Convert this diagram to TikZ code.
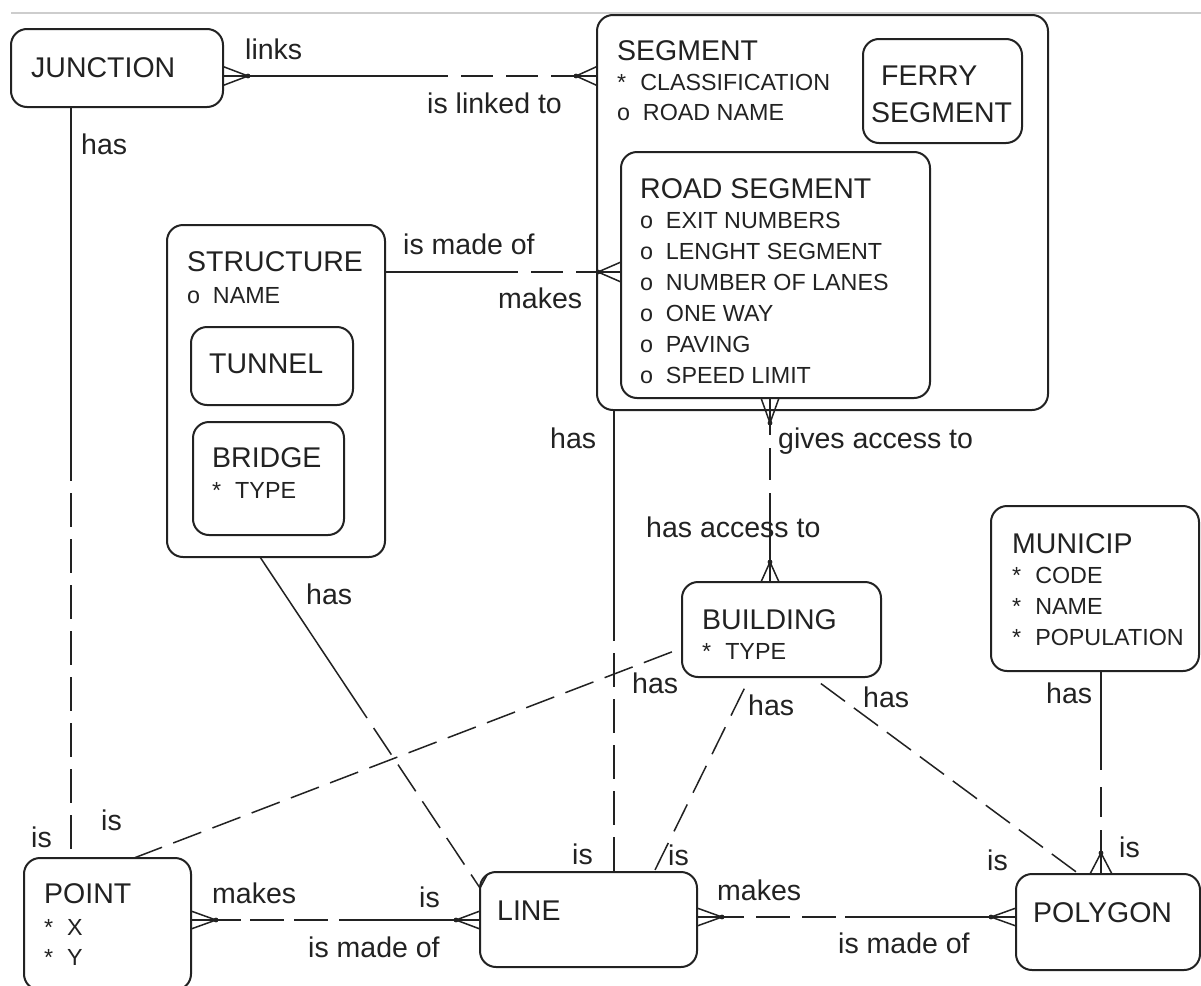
\documentclass[tikz,border=0pt]{standalone}
\usepackage{fontspec}
\setmainfont{Liberation Sans}
\usetikzlibrary{calc}

\definecolor{ink}{HTML}{222222}
\definecolor{rulegray}{HTML}{CDCDCD}

\newcommand\entfont{\fontsize{28.5}{34}\selectfont}
\newcommand\attfont{\fontsize{23.3}{28}\selectfont}
\newcommand\oattr[1]{o\hspace{0.55em}#1}
\newcommand\sattr[1]{*\hspace{0.6em}#1}

% crow's foot: #1 = joint (dot), #2 = end on the entity border, #3 = half spread
\newcommand\crowfoot[3]{%
  \fill[ink] (#1) circle (2.4pt);
  \draw[prong] (#1) -- (#2);
  \draw[prong] (#1) -- ($(#2)!#3!90:(#1)$);
  \draw[prong] (#1) -- ($(#2)!#3!-90:(#1)$);
}

\begin{document}
\begin{tikzpicture}[x=1pt,y=-1pt,
  ent/.style={draw=ink, line width=2pt, rounded corners=16pt, inner sep=0pt,
              outer sep=0pt, anchor=north west},
  entname/.style={anchor=base west, inner sep=0pt, text=ink, font=\entfont},
  attr/.style={anchor=base west, inner sep=0pt, text=ink, font=\attfont},
  lbl/.style={anchor=base west, inner sep=0pt, text=ink, font=\entfont},
  relsolid/.style={draw=ink, line width=2pt},
  reldiag/.style={draw=ink, line width=1.5pt},
  prong/.style={draw=ink, line width=1.5pt},
  % dashes that open with a gap: #1 = dash length, #2 = gap length
  gapfirst/.style 2 args={dash pattern=on #1 off #2, dash phase=#1},
]
\path[use as bounding box, fill=white] (0,0) rectangle (1201,985);

% page rule
\draw[rulegray, line width=1.6pt] (11,13) -- (1201,13);

% ---------- entities ----------
\node[ent, minimum width=212pt, minimum height=78pt]  (junction)  at (11,29) {};
\node[ent, minimum width=451pt, minimum height=395pt] (segment)   at (597,15) {};
\node[ent, minimum width=159pt, minimum height=104pt] (ferry)     at (863,39) {};
\node[ent, minimum width=309pt, minimum height=246pt] (roadseg)   at (621,152) {};
\node[ent, minimum width=218pt, minimum height=332pt] (structure) at (167,225) {};
\node[ent, minimum width=162pt, minimum height=78pt]  (tunnel)    at (191,327) {};
\node[ent, minimum width=151pt, minimum height=113pt] (bridge)    at (193,422) {};
\node[ent, minimum width=199pt, minimum height=95pt]  (building)  at (682,582) {};
\node[ent, minimum width=208pt, minimum height=165pt] (municip)   at (991,506) {};
\node[ent, minimum width=167pt, minimum height=132pt] (point)     at (24,858) {};
\node[ent, minimum width=217pt, minimum height=95pt]  (line)      at (480,872) {};
\node[ent, minimum width=184pt, minimum height=96pt]  (polygon)   at (1016,874) {};

% ---------- entity texts ----------
\node[entname] (junction-t) at (31,77) {JUNCTION};

\node[entname] (segment-t)  at (617,60) {SEGMENT};
\node[attr]    (segment-a1) at (617,90) {\sattr{CLASSIFICATION}};
\node[attr]    (segment-a2) at (617,120) {\oattr{ROAD NAME}};

\node[entname] (ferry-t1) at (881,85) {FERRY};
\node[entname] (ferry-t2) at (871,122) {SEGMENT};

\node[entname] (roadseg-t)  at (640,198) {ROAD SEGMENT};
\node[attr]    (roadseg-a1) at (640,228) {\oattr{EXIT NUMBERS}};
\node[attr]    (roadseg-a2) at (640,259) {\oattr{LENGHT SEGMENT}};
\node[attr]    (roadseg-a3) at (640,290) {\oattr{NUMBER OF LANES}};
\node[attr]    (roadseg-a4) at (640,321) {\oattr{ONE WAY}};
\node[attr]    (roadseg-a5) at (640,352) {\oattr{PAVING}};
\node[attr]    (roadseg-a6) at (640,383) {\oattr{SPEED LIMIT}};

\node[entname] (structure-t)  at (187,271) {STRUCTURE};
\node[attr]    (structure-a1) at (187,303) {\oattr{NAME}};
\node[entname] (tunnel-t) at (209,373) {TUNNEL};
\node[entname] (bridge-t)  at (212,467) {BRIDGE};
\node[attr]    (bridge-a1) at (212,498) {\sattr{TYPE}};

\node[entname] (building-t)  at (702,629) {BUILDING};
\node[attr]    (building-a1) at (702,659) {\sattr{TYPE}};

\node[entname] (municip-t)  at (1012,553) {MUNICIP};
\node[attr]    (municip-a1) at (1012,583) {\sattr{CODE}};
\node[attr]    (municip-a2) at (1012,614) {\sattr{NAME}};
\node[attr]    (municip-a3) at (1012,645) {\sattr{POPULATION}};

\node[entname] (point-t)  at (44,903) {POINT};
\node[attr]    (point-a1) at (44,935) {\sattr{X}};
\node[attr]    (point-a2) at (44,965) {\sattr{Y}};

\node[entname] (line-t) at (497,920) {LINE};
\node[entname] (polygon-t) at (1033,922) {POLYGON};

% ---------- relationships ----------
% JUNCTION -- SEGMENT
\coordinate (js-d1) at (248,76);
\coordinate (js-m)  at (448,76);
\coordinate (js-d2) at (576,76);
\crowfoot{js-d1}{junction.east |- 0,76}{9.5pt}
\draw[relsolid] (js-d1) -- (js-m);
\draw[relsolid, gapfirst={32pt}{13pt}] (js-m) -- (js-d2);
\crowfoot{js-d2}{segment.west |- 0,76}{9.5pt}
\node[lbl] (js-l1) at (245,59) {links};
\node[lbl] (js-l2) at (427,113) {is linked to};

% STRUCTURE -- ROAD SEGMENT
\coordinate (sr-m) at (518,272);
\coordinate (sr-d) at (598,272);
\draw[relsolid] (structure.east |- 0,272) -- (sr-m);
\draw[relsolid, gapfirst={32pt}{13pt}] (sr-m) -- (sr-d);
\crowfoot{sr-d}{roadseg.west |- 0,272}{10pt}
\node[lbl] (sr-l1) at (403,254) {is made of};
\node[lbl] (sr-l2) at (498,308) {makes};

% ROAD SEGMENT -- BUILDING
\coordinate (rb-d1) at (770,423);
\coordinate (rb-m)  at (770,493);
\coordinate (rb-d2) at (770,562);
\crowfoot{rb-d1}{roadseg.south -| 770,0}{9pt}
\draw[relsolid, dash pattern=on 12pt off 13pt on 32pt off 13pt] (rb-d1) -- (rb-m);
\draw[relsolid] (rb-m) -- (rb-d2);
\crowfoot{rb-d2}{building.north -| 770,0}{9pt}
\node[lbl] (rb-l1) at (778,448) {gives access to};
\node[lbl] (rb-l2) at (646,537) {has access to};

% JUNCTION -- POINT
\coordinate (jp-m) at (71,481);
\draw[relsolid] (junction.south -| 71,0) -- (jp-m);
\draw[relsolid, gapfirst={34pt}{12pt}] (jp-m) -- (point.north -| 71,0);
\node[lbl] (jp-l1) at (81,154) {has};
\node[lbl] (jp-l2) at (31,847) {is};

% POINT -- BUILDING
\draw[reldiag, dash pattern=on 30pt off 12pt] (point.north -| 134,0) -- (building.west |- 0,648);
\node[lbl] (pb-l1) at (101,830) {is};
\node[lbl] (pb-l2) at (632,693) {has};

% STRUCTURE -- LINE
\coordinate (sl-a) at (260,557);
\coordinate (sl-m) at (367,718);
\coordinate (sl-e) at (480,888);
\coordinate (sl-p) at (487,875);
\draw[reldiag] (structure.south -| sl-a) -- (sl-m);
\draw[reldiag, gapfirst={32pt}{12pt}] (sl-m) -- (sl-e);
\draw[prong] (sl-p) -- (sl-e);
\node[lbl] (sl-l1) at (306,604) {has};

% SEGMENT -- LINE
\coordinate (sn-m) at (614,641);
\draw[relsolid] (segment.south -| 614,0) -- (sn-m);
\draw[relsolid, gapfirst={34pt}{12pt}] (sn-m) -- (line.north -| 614,0);
\node[lbl] (sn-l1) at (550,448) {has};
\node[lbl] (sn-l2) at (572,864) {is};

% BUILDING -- LINE
\draw[reldiag, gapfirst={30pt}{13pt}] (building.south -| 750,0) -- (line.north -| 654,0);
\node[lbl] (bl-l1) at (748,715) {has};
\node[lbl] (bl-l2) at (668,865) {is};

% BUILDING -- POLYGON
\draw[reldiag, gapfirst={30pt}{11pt}] (building.south -| 812,0) -- (polygon.north -| 1079,0);
\node[lbl] (bp-l1) at (863,707) {has};
\node[lbl] (bp-l2) at (987,870) {is};

% MUNICIP -- POLYGON
\coordinate (mp-m) at (1101,770);
\coordinate (mp-n) at (1101,830);
\coordinate (mp-d) at (1101,853);
\draw[relsolid] (municip.south -| 1101,0) -- (mp-m);
\draw[relsolid, dash pattern=on 30pt off 30pt, dash phase=43pt] (mp-m) -- (mp-n);
\draw[relsolid] (mp-n) -- (mp-d);
\crowfoot{mp-d}{polygon.north -| 1101,0}{11pt}
\node[lbl] (mp-l1) at (1046,703) {has};
\node[lbl] (mp-l2) at (1119,857) {is};

% POINT -- LINE
\coordinate (pl-d1) at (216,920);
\coordinate (pl-m)  at (339,920);
\coordinate (pl-d2) at (456,920);
\crowfoot{pl-d1}{point.east |- 0,920}{9pt}
\draw[relsolid, dash pattern=on 25pt off 9pt on 34pt off 10pt on 34pt off 11pt] (pl-d1) -- (pl-m);
\draw[relsolid] (pl-m) -- (pl-d2);
\crowfoot{pl-d2}{line.west |- 0,920}{9pt}
\node[lbl] (pl-l1) at (212,903) {makes};
\node[lbl] (pl-l2) at (419,907) {is};
\node[lbl] (pl-l3) at (308,957) {is made of};

% LINE -- POLYGON
\coordinate (lp-d1) at (722,917);
\coordinate (lp-m)  at (845,917);
\coordinate (lp-d2) at (991,917);
\crowfoot{lp-d1}{line.east |- 0,917}{9pt}
\draw[relsolid, dash pattern=on 22pt off 12pt on 34pt off 12pt on 34pt off 9pt] (lp-d1) -- (lp-m);
\draw[relsolid] (lp-m) -- (lp-d2);
\crowfoot{lp-d2}{polygon.west |- 0,917}{9pt}
\node[lbl] (lp-l1) at (717,900) {makes};
\node[lbl] (lp-l2) at (838,953) {is made of};
\end{tikzpicture}
\end{document}
